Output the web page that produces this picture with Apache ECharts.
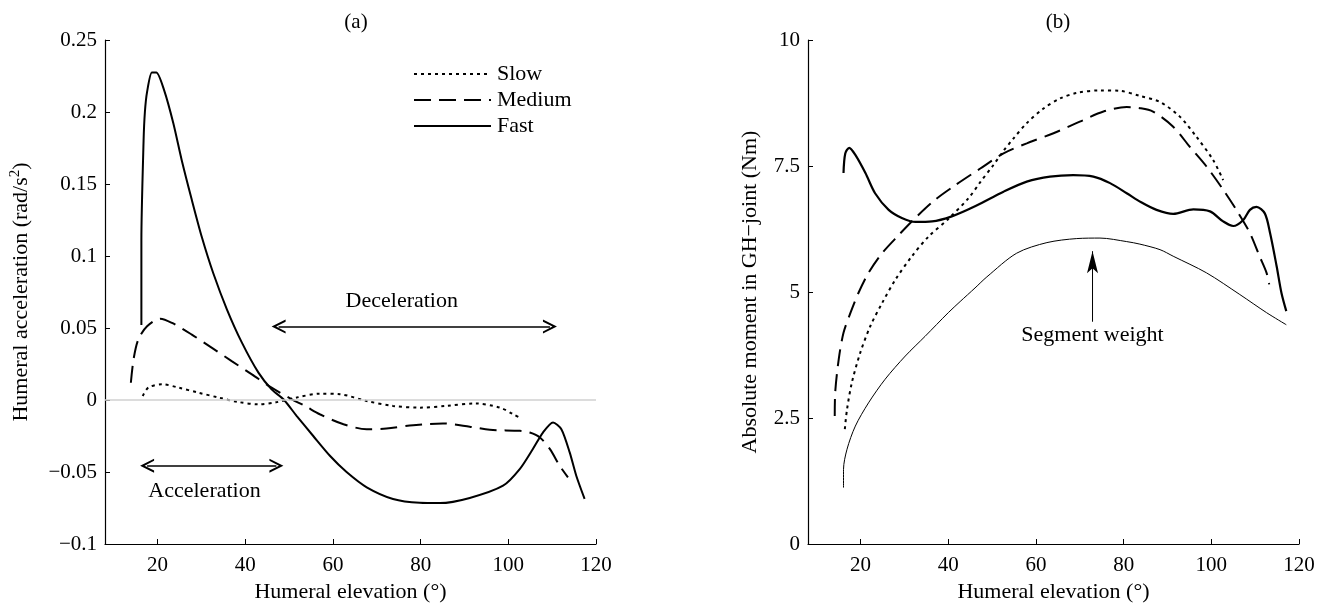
<!DOCTYPE html>
<html>
<head>
<meta charset="utf-8">
<script src="https://cdn.jsdelivr.net/npm/echarts@6/dist/echarts.min.js"></script>
<style>
  html, body { margin: 0; padding: 0; background: #fff; }
  #chart { width: 1331px; height: 608px; }
</style>
</head>
<body>
<div id="chart"></div>
<script>
// x ticks shared by both panels
const xTicks = [20, 40, 60, 80, 100, 120];

// (a) humeral acceleration [elevation, rad/s^2]
const accSlow = [[16.6,0.0028],[17.9,0.0086],[21.0,0.0109],[24.8,0.0086],[29.3,0.0051],[33.9,0.0017],[38.4,-0.0014],[43.0,-0.003],[47.0,-0.0016],[51.7,0.0017],[57.0,0.0044],[61.6,0.004],[67.7,-0.0007],[73.7,-0.0041],[79.8,-0.0053],[85.9,-0.0041],[92.5,-0.0024],[98.1,-0.0053],[101.1,-0.0099],[103.0,-0.0129]];
const accMedium = [[13.9,0.012],[14.5,0.028],[15.6,0.042],[17.6,0.0512],[20.6,0.0565],[23.3,0.0535],[27.8,0.0454],[32.4,0.0362],[36.9,0.027],[41.5,0.0178],[46.0,0.0086],[50.6,0.0005],[53.6,-0.0041],[57.0,-0.0099],[62.4,-0.0168],[67.7,-0.0203],[72.2,-0.0198],[78.3,-0.0175],[85.1,-0.0163],[91.2,-0.0185],[95.8,-0.0207],[102.6,-0.0214],[104.9,-0.0226],[107.2,-0.026],[109.5,-0.0341],[111.7,-0.0456],[113.6,-0.0537]];
const accFast = [[16.3,0.052],[16.3,0.111],[16.8,0.180],[17.1,0.200],[17.6,0.214],[18.7,0.2275],[19.7,0.2275],[21.5,0.215],[23.6,0.192],[25.5,0.1665],[27.8,0.139],[30.1,0.113],[32.7,0.088],[35.8,0.063],[39.2,0.040],[43.0,0.019],[46.0,0.0074],[48.7,0.0005],[51.7,-0.011],[55.5,-0.025],[59.3,-0.0387],[63.1,-0.050],[67.7,-0.0606],[73.7,-0.0687],[79.8,-0.0714],[84.4,-0.0716],[91.2,-0.0680],[98.8,-0.0595],[102.6,-0.048],[105.6,-0.034],[107.9,-0.0226],[110.2,-0.0156],[112.1,-0.0203],[114.0,-0.0364],[115.5,-0.0526],[117.4,-0.0687]];

// (b) absolute moment [elevation, Nm]
const momSlow = [[16.4,2.28],[16.9,2.67],[18.0,3.20],[19.9,3.79],[22.2,4.32],[24.9,4.78],[27.9,5.24],[31.7,5.71],[35.5,6.10],[40.0,6.45],[44.6,6.86],[47.3,7.18],[50.3,7.52],[52.6,7.80],[54.9,8.05],[57.9,8.35],[61.7,8.64],[65.5,8.84],[69.3,8.95],[74.6,9.0],[79.2,8.99],[83.7,8.89],[88.3,8.77],[92.8,8.48],[96.6,8.08],[100.4,7.62],[102.7,7.22]];
const momMedium = [[14.1,2.54],[14.2,3.0],[15.0,3.66],[16.1,4.19],[17.7,4.59],[19.5,4.98],[21.8,5.38],[24.9,5.77],[28.7,6.13],[32.5,6.47],[37.0,6.83],[41.6,7.12],[47.3,7.45],[52.6,7.75],[57.9,7.95],[64.0,8.15],[70.0,8.38],[75.4,8.58],[80.7,8.67],[83.5,8.65],[86.7,8.58],[91.3,8.28],[95.1,7.88],[98.9,7.49],[102.7,7.03],[105.7,6.63],[108.8,6.17],[111.0,5.71],[112.6,5.38],[113.2,5.15]];
const momFast = [[16.1,7.36],[16.5,7.75],[17.4,7.86],[18.8,7.72],[21.1,7.36],[23.3,6.96],[26.4,6.63],[29.4,6.47],[32.5,6.39],[36.3,6.40],[40.8,6.50],[46.1,6.70],[52.6,6.99],[57.9,7.19],[63.2,7.29],[68.5,7.32],[73.1,7.29],[76.9,7.16],[80.7,6.96],[84.0,6.78],[87.5,6.63],[91.3,6.55],[95.9,6.64],[99.7,6.60],[102.7,6.40],[105.0,6.31],[107.3,6.43],[108.8,6.63],[110.3,6.69],[112.2,6.56],[113.4,6.17],[114.9,5.51],[116.0,4.98],[117.1,4.62]];
const momSegment = [[16.1,1.12],[16.1,1.48],[16.9,1.88],[18.8,2.34],[21.8,2.80],[25.6,3.27],[30.2,3.73],[34.7,4.12],[40.0,4.59],[42.7,4.81],[46.1,5.08],[48.8,5.30],[55.6,5.77],[62.5,5.98],[69.3,6.06],[74.6,6.07],[80.7,6.0],[83.7,5.95],[88.3,5.84],[91.3,5.71],[98.9,5.38],[106.5,4.95],[112.6,4.59],[117.1,4.35]];

// annotations
const decelArrow = [[47.6, 0.051], [109.5, 0.051]];
const accelArrow = [[17.6, -0.0456], [47.1, -0.0456]];
const decelText = [75.7, 0.0685];
const accelText = [30.7, -0.0636];
const segArrow = [[72.9, 4.41], [72.9, 5.81]];
const segText = [72.9, 4.15];

const font = "Liberation Serif";
const chevron = "path://M10,0 L20,14 L17,14 L10,4.5 L3,14 L0,14 Z";

const chart = echarts.init(document.getElementById("chart"));

const xAxisBase = (gridIndex) => ({
  type: "value",
  gridIndex: gridIndex,
  min: 8,
  max: 120,
  name: "Humeral elevation (°)",
  nameLocation: "middle",
  nameGap: 37,
  nameTextStyle: { fontFamily: font, fontSize: 22, color: "#000" },
  axisLine: { show: true, onZero: false, lineStyle: { color: "#000", width: 1.2 } },
  axisTick: { show: true, inside: true, length: 5, customValues: xTicks, lineStyle: { color: "#000" } },
  axisLabel: { customValues: xTicks, fontFamily: font, fontSize: 21, color: "#000", margin: 11 },
  splitLine: { show: false },
});

const yAxisBase = (gridIndex) => ({
  type: "value",
  gridIndex: gridIndex,
  nameLocation: "middle",
  nameTextStyle: { fontFamily: font, fontSize: 22, color: "#000" },
  axisLine: { show: true, onZero: false, lineStyle: { color: "#000", width: 1.2 } },
  axisTick: { show: true, inside: true, length: 5, lineStyle: { color: "#000" } },
  splitLine: { show: false },
});

const textPoint = (coord, text) => ({
  coord: coord,
  symbol: "circle",
  symbolSize: 1,
  itemStyle: { color: "transparent" },
  label: { show: true, position: "inside", formatter: text, fontFamily: font, fontSize: 22, color: "#000" },
});

chart.setOption({
  animation: false,
  title: [
    { text: "(a)", left: 351, top: 7, textAlign: "center", textStyle: { fontFamily: font, fontSize: 21, fontWeight: "normal", color: "#000" } },
    { text: "(b)", left: 1053, top: 7, textAlign: "center", textStyle: { fontFamily: font, fontSize: 21, fontWeight: "normal", color: "#000" } },
  ],
  legend: {
    data: ["Slow", "Medium", "Fast"],
    orient: "vertical",
    left: 408,
    top: 58,
    itemWidth: 77,
    itemHeight: 12,
    itemGap: 4,
    itemStyle: { color: "transparent", borderWidth: 0, opacity: 0 },
    textStyle: { fontFamily: font, fontSize: 22, color: "#000", padding: [0, 0, 0, 1] },
  },
  grid: [
    { left: 105, top: 40, width: 491, height: 506 },
    { left: 808, top: 40, width: 491, height: 506 },
  ],
  xAxis: [xAxisBase(0), xAxisBase(1)],
  yAxis: [
    Object.assign(yAxisBase(0), {
      min: -0.1,
      max: 0.25,
      interval: 0.05,
      name: "Humeral acceleration (rad/s{sup|2})",
      nameGap: 71,
      nameTextStyle: {
        fontFamily: font, fontSize: 22, color: "#000",
        rich: { sup: { fontFamily: font, fontSize: 15, color: "#000", padding: [0, 0, 11, 0] } },
      },
      axisLabel: {
        fontFamily: font, fontSize: 21, color: "#000", margin: 8,
        formatter: (v) => String(Math.round(v * 100) / 100).replace("-", "\u2212"),
      },
    }),
    Object.assign(yAxisBase(1), {
      min: 0,
      max: 10,
      interval: 2.5,
      name: "Absolute moment in GH\u2212joint (Nm)",
      nameGap: 47,
      axisLabel: { fontFamily: font, fontSize: 21, color: "#000", margin: 8 },
    }),
  ],
  series: [
    {
      name: "Slow",
      type: "line",
      xAxisIndex: 0,
      yAxisIndex: 0,
      data: accSlow,
      symbol: "none",
      smooth: 0.3,
      lineStyle: { color: "#000", width: 2, type: [3, 4] },
      markLine: {
        silent: true,
        symbol: "none",
        label: { show: false },
        lineStyle: { color: "#d0d0d0", width: 1.5, type: "solid" },
        data: [{ yAxis: 0 }],
      },
    },
    {
      name: "Medium",
      type: "line",
      xAxisIndex: 0,
      yAxisIndex: 0,
      data: accMedium,
      symbol: "none",
      smooth: 0.3,
      lineStyle: { color: "#000", width: 2, type: [17, 8] },
    },
    {
      name: "Fast",
      type: "line",
      xAxisIndex: 0,
      yAxisIndex: 0,
      data: accFast,
      symbol: "none",
      smooth: 0.25,
      lineStyle: { color: "#000", width: 2 },
      markLine: {
        silent: true,
        symbol: [chevron, chevron],
        symbolSize: 14,
        label: { show: false },
        lineStyle: { color: "#000", width: 1.6, type: "solid" },
        data: [
          [{ coord: decelArrow[0] }, { coord: decelArrow[1] }],
          [{ coord: accelArrow[0] }, { coord: accelArrow[1] }],
        ],
      },
      markPoint: {
        silent: true,
        data: [textPoint(decelText, "Deceleration"), textPoint(accelText, "Acceleration")],
      },
    },
    {
      name: "Slow",
      type: "line",
      xAxisIndex: 1,
      yAxisIndex: 1,
      data: momSlow,
      symbol: "none",
      smooth: 0.3,
      lineStyle: { color: "#000", width: 2, type: [3, 4] },
    },
    {
      name: "Medium",
      type: "line",
      xAxisIndex: 1,
      yAxisIndex: 1,
      data: momMedium,
      symbol: "none",
      smooth: 0.3,
      lineStyle: { color: "#000", width: 2, type: [17, 8] },
    },
    {
      name: "Fast",
      type: "line",
      xAxisIndex: 1,
      yAxisIndex: 1,
      data: momFast,
      symbol: "none",
      smooth: 0.3,
      lineStyle: { color: "#000", width: 2.2 },
    },
    {
      name: "Segment weight",
      type: "line",
      xAxisIndex: 1,
      yAxisIndex: 1,
      data: momSegment,
      symbol: "none",
      smooth: 0.3,
      lineStyle: { color: "#000", width: 1 },
      markPoint: {
        silent: true,
        data: [textPoint(segText, "Segment weight")],
      },
    },
    {
      name: "arrow",
      type: "line",
      xAxisIndex: 1,
      yAxisIndex: 1,
      silent: true,
      data: [
        { value: segArrow[0], symbol: "none" },
        { value: segArrow[1], symbol: "path://M6,0 L12,22 L6,17 L0,22 Z", symbolSize: [11, 22], symbolOffset: [0, 11] },
      ],
      showSymbol: true,
      itemStyle: { color: "#000" },
      lineStyle: { color: "#000", width: 1 },
    },
  ],
});
</script>
</body>
</html>
